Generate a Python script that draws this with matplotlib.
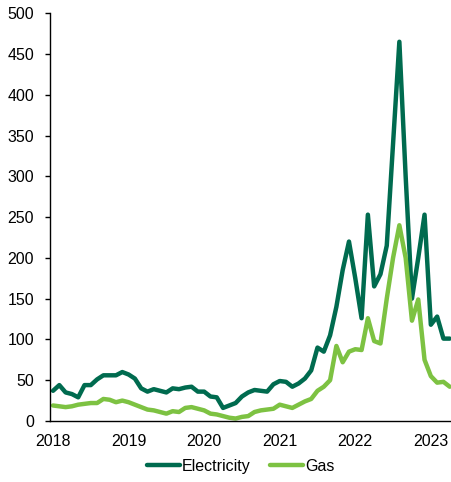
import numpy as np
import matplotlib.pyplot as plt

plt.rcParams['font.family'] = ['Liberation Sans', 'DejaVu Sans']

# ── Data (monthly, Jan 2018 – Apr 2023) ──────────────────────────────────────
start_year = 2018
electricity = [37, 44, 35, 33, 29, 44, 44, 51, 56, 56, 56, 60,
               57, 52, 40, 36, 39, 37, 35, 40, 39, 41, 42, 36,
               36, 30, 29, 16, 19, 22, 30, 35, 38, 37, 36, 45,
               49, 48, 42, 46, 52, 62, 90, 85, 105, 140, 185, 220,
               175, 126, 253, 165, 180, 215, 340, 465, 300, 150, 200, 253,
               118, 128, 101, 101]
gas = [19, 18, 17, 18, 20, 21, 22, 22, 27, 26, 23, 25,
       23, 20, 17, 14, 13, 11, 9, 12, 11, 16, 17, 15,
       13, 9, 8, 6, 4, 3, 5, 6, 11, 13, 14, 15,
       20, 18, 16, 20, 24, 27, 37, 42, 50, 92, 72, 85,
       88, 87, 126, 98, 95, 150, 200, 240, 200, 123, 149, 75,
       55, 47, 48, 42]
year_ticks = [2018, 2019, 2020, 2021, 2022, 2023]

x = start_year + np.arange(len(electricity)) / 12

fig = plt.figure(figsize=(4.52, 4.82), dpi=100)
ax = fig.add_axes([0.1106, 0.1266, 0.8894, 0.846])

ax.plot(x, electricity, color='#006B4F', lw=3.2, solid_joinstyle='round',
        solid_capstyle='round', label='Electricity')
ax.plot(x, gas, color='#7DC242', lw=3.2, solid_joinstyle='round',
        solid_capstyle='round', label='Gas')

ax.set_xlim(2017.96, 2023.28)
ax.set_ylim(0, 500)
ax.set_yticks(range(0, 501, 50))
ax.set_xticks(year_ticks)
ax.set_xticklabels([str(y) for y in year_ticks])

for s in ['top', 'right']:
    ax.spines[s].set_visible(False)
for s in ['left', 'bottom']:
    ax.spines[s].set_color('black')
    ax.spines[s].set_linewidth(1.0)

ax.tick_params(axis='y', direction='out', length=3.6, width=1.0,
               pad=8, labelsize=11.5, colors='black')
ax.tick_params(axis='x', length=0, pad=9.5, labelsize=11.5, colors='black')

fig.legend(loc='center', bbox_to_anchor=(0.532, 0.032), ncol=2,
           frameon=False, fontsize=11.5, handlelength=2.1,
           handletextpad=0.1, columnspacing=1.2)

fig.savefig('out.png', dpi=100)
